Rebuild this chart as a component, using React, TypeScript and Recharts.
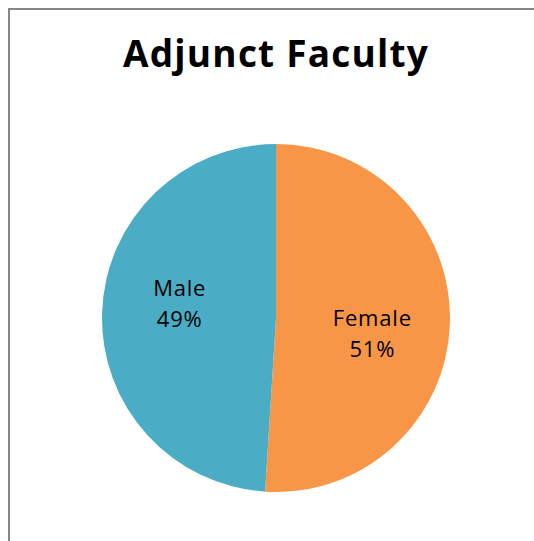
import React from "react";
import { PieChart, Pie, Cell } from "recharts";

const categories = ["Female", "Male"];
const shares = [51, 49];
const colors = ["#F79646", "#4BACC6"];

const data = categories.map((name, i) => ({ name, value: shares[i] }));

const RAD = Math.PI / 180;

// Excel puts the labels a bit off the slice middle, nudge them clockwise
const renderLabel = (props: any) => {
  const { cx, cy, midAngle, outerRadius, name, value } = props;
  const r = outerRadius * 0.56;
  const a = (midAngle - 7) * RAD;
  const x = cx + r * Math.cos(a);
  const y = cy - r * Math.sin(a);
  return (
    <text
      x={x}
      y={y}
      textAnchor="middle"
      fill="#000"
      fontFamily="'Open Sans', sans-serif"
      fontSize={22}
      letterSpacing={0.8}
    >
      <tspan x={x} dy={-7}>
        {name}
      </tspan>
      <tspan x={x} dy={31}>
        {value}%
      </tspan>
    </text>
  );
};

export default function App() {
  return (
    <>
      <style>{"html, body { overflow: hidden; }"}</style>
      <div
        style={{
          position: "absolute",
          left: 8,
          top: 8,
          width: 540,
          height: 540,
          borderLeft: "2px solid #878787",
          borderTop: "2px solid #878787",
          background: "#fff",
        }}
      >
        <PieChart width={540} height={540}>
          <text
            x={266}
            y={57}
            textAnchor="middle"
            fontFamily="'Open Sans', sans-serif"
            fontWeight="bold"
            fontSize={37}
            letterSpacing={1.2}
            fill="#000"
          >
            Adjunct Faculty
          </text>
          <Pie
            data={data}
            dataKey="value"
            nameKey="name"
            cx={261}
            cy={303}
            outerRadius={174}
            startAngle={90}
            endAngle={-270}
            stroke="none"
            label={renderLabel}
            labelLine={false}
            isAnimationActive={false}
          >
            {data.map((d, i) => (
              <Cell key={d.name} fill={colors[i]} />
            ))}
          </Pie>
        </PieChart>
      </div>
    </>
  );
}
